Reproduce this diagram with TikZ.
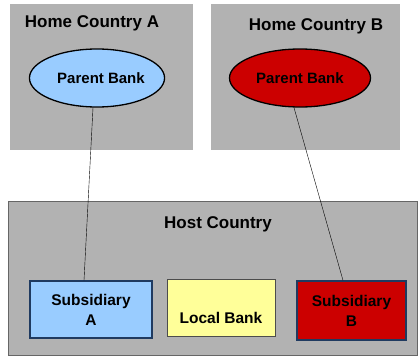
\documentclass[tikz,border=0pt]{standalone}
\usepackage{fontspec}
\setmainfont{Liberation Sans}
\usetikzlibrary{positioning,shapes.geometric}
\definecolor{areagray}{HTML}{B2B2B2}
\definecolor{lightblue}{HTML}{99CCFF}
\definecolor{bankred}{HTML}{CC0000}
\definecolor{paleyellow}{HTML}{FFFF99}
\definecolor{navyline}{HTML}{1F3A60}

\begin{document}
\begin{tikzpicture}[x=1pt, y=-1pt,
    area/.style={rectangle, fill=areagray, inner sep=0pt},
    arealabel/.style={font=\bfseries\fontsize{17}{20}\selectfont},
    parent/.style={ellipse, draw=black, line width=1.3pt, minimum height=58pt, inner sep=0pt, font=\bfseries\fontsize{15}{18}\selectfont},
    bankbox/.style={rectangle, line width=1.2pt, inner sep=0pt, minimum height=57pt, align=center, font=\bfseries\fontsize{15.5}{20}\selectfont}]
    \useasboundingbox (0,0) rectangle (418,356);
    % Country areas
    \node[area, minimum width=183pt, minimum height=146pt] (homeA) at (101.5,77) {};
    \node[area, minimum width=189pt, minimum height=146pt] (homeB) at (305.5,77) {};
    \node[area, draw=gray!80!black, line width=0.8pt, minimum width=409pt, minimum height=154pt] (host) at (212.5,278) {};
    \node[arealabel] (homeAlbl) at (92,23) {Home Country A};
    \node[arealabel] (homeBlbl) at (316,26) {Home Country B};
    \node[arealabel] (hostlbl) at (218,224) {Host Country};
    
    % Parent banks
    \node[parent, fill=lightblue, minimum width=133pt] (pbA) at (97,78) {\hspace*{8pt}Parent Bank};
    \node[parent, fill=bankred, minimum width=141pt] (pbB) at (300,78) {Parent Bank};
    
    % Banks in the host country
    \node[bankbox, draw=navyline, fill=lightblue, minimum width=122pt] (subA) at (91,309.5) {Subsidiary\\A};
    \node[bankbox, draw=black!70, line width=0.6pt, fill=paleyellow, minimum width=108pt] (local) at (221,307.5) {\raisebox{-10pt}[\height][0pt]{Local Bank}};
    \node[bankbox, draw=navyline, fill=bankred, minimum width=109pt, minimum height=59pt] (subB) at (351.5,310.5) {Subsidiary\\B};
    
    % Connections
    \draw ([xshift=-4pt]pbA.south) -- ([xshift=-7pt]subA.north);
    \draw ([xshift=-6pt]pbB.south) -- ([xshift=-8.5pt]subB.north);
\end{tikzpicture}
\end{document}
